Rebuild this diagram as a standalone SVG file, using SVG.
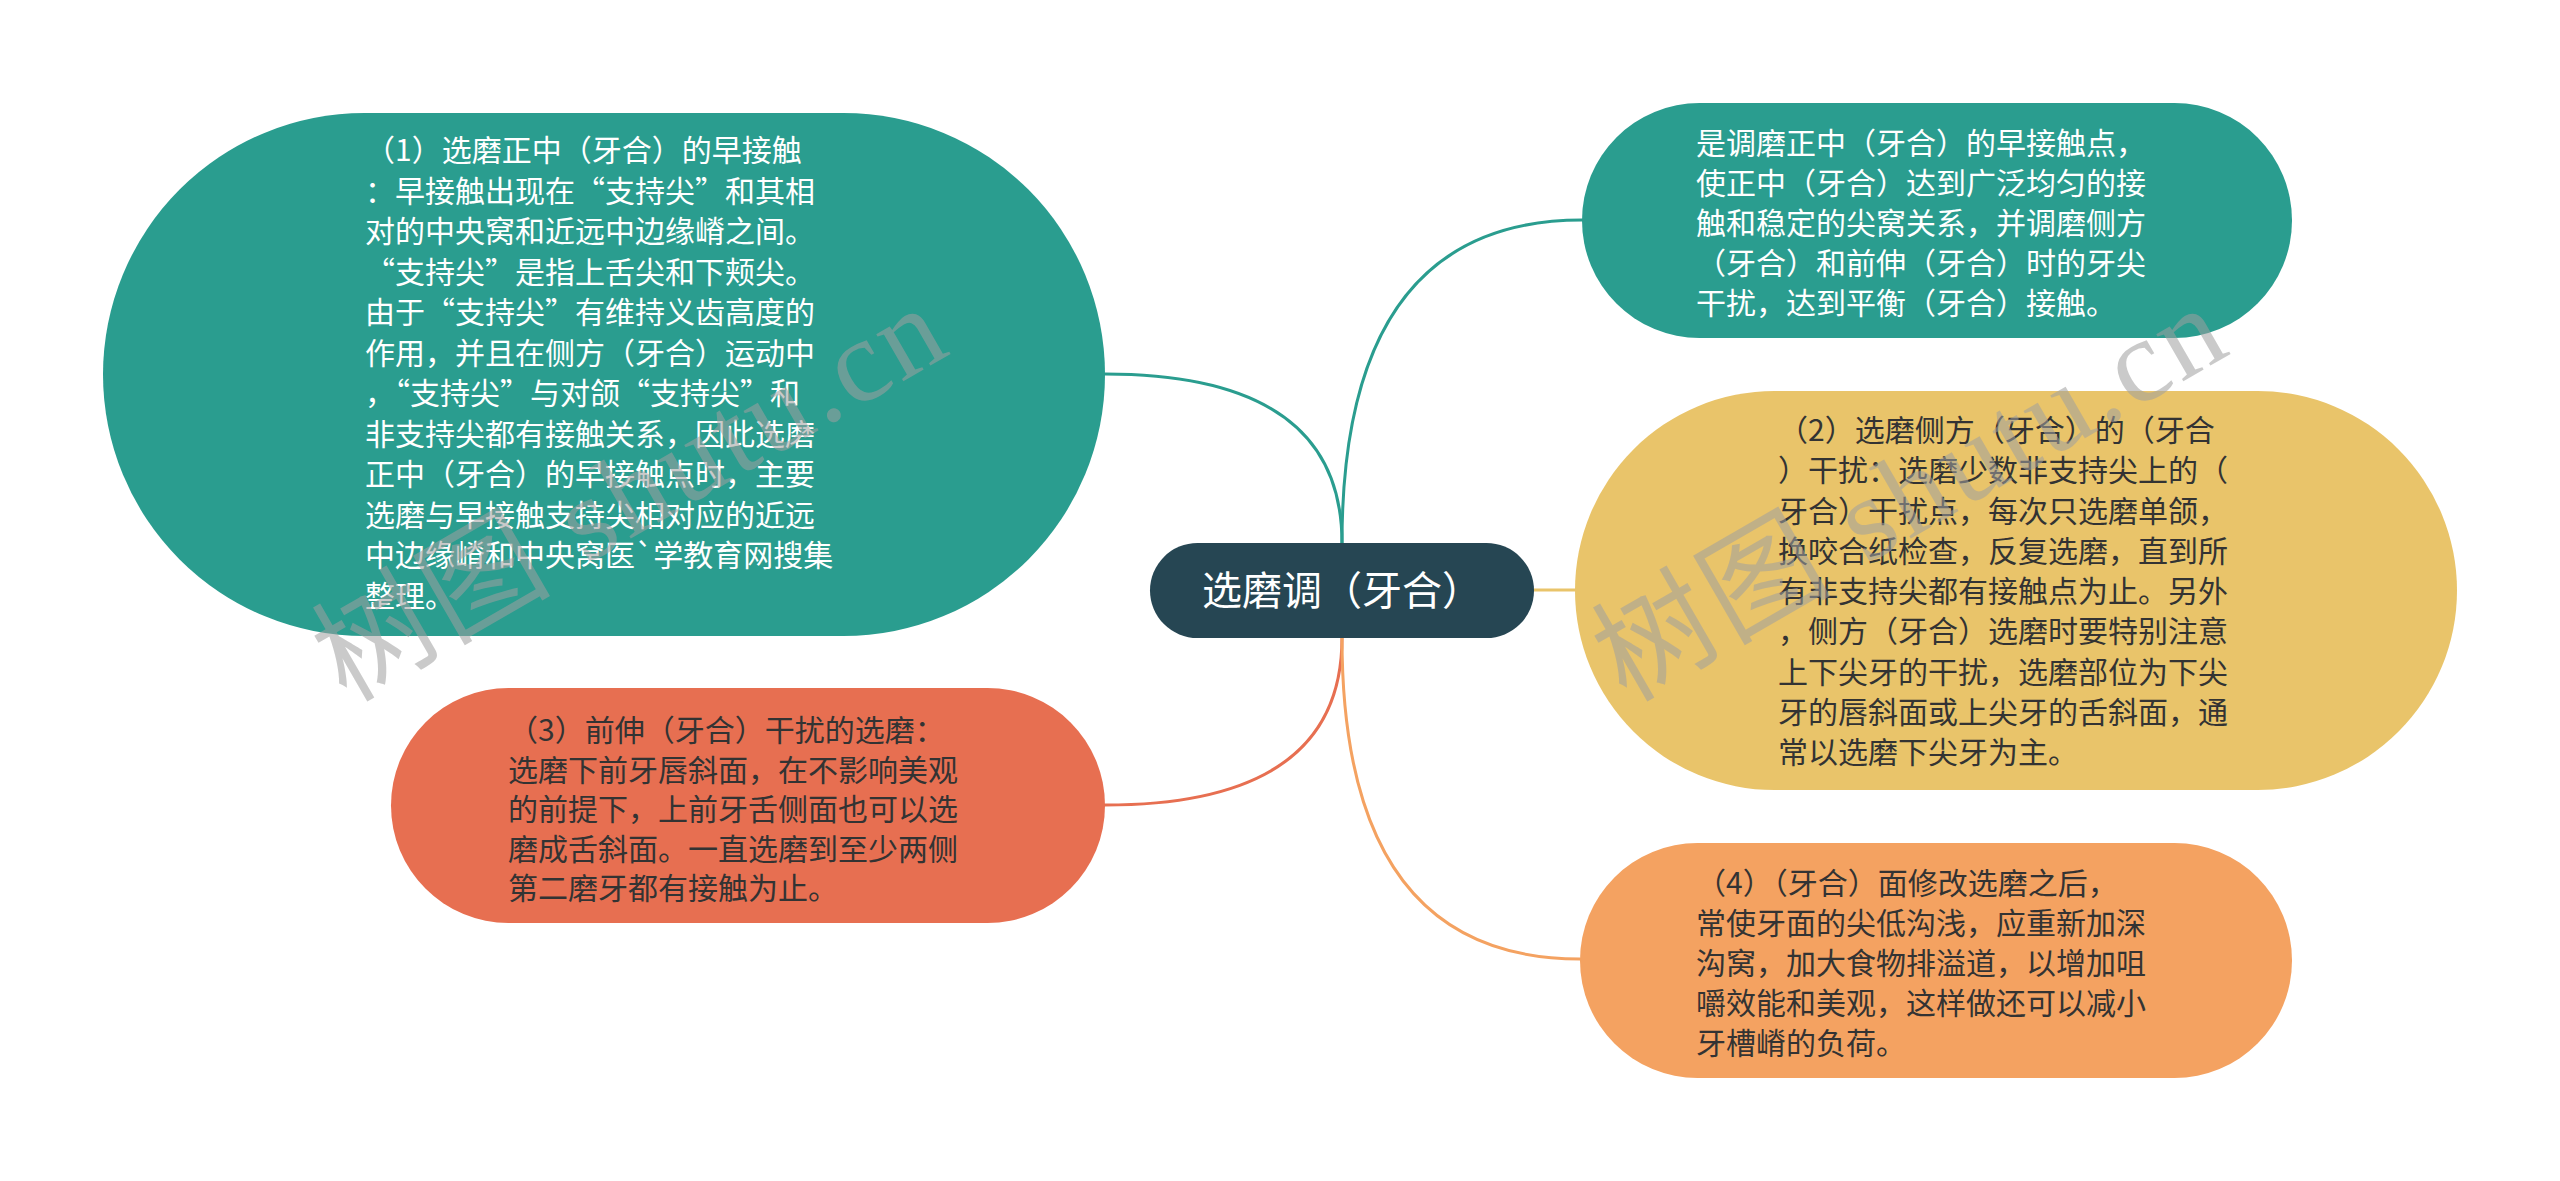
<svg xmlns="http://www.w3.org/2000/svg" width="2560" height="1181" viewBox="0 0 2560 1181">
<style>
.edge{fill:none;stroke-width:3;stroke-linecap:round}
.t{font-family:"Noto Sans CJK SC","Noto Sans",sans-serif;font-size:30px}
.w{fill:#ffffff}
.d{fill:#333333}
.wm{font-family:"Liberation Serif","Noto Sans CJK SC",serif;font-size:118px;fill:#a0a0a0;opacity:0.55}
</style>
<rect width="2560" height="1181" fill="#ffffff"/>
<g id="connectors">
<path class="edge" stroke="#2A9D8F" d="M1342,543 Q1342,374 1105,374"/>
<path class="edge" stroke="#2A9D8F" d="M1342,543 Q1342,220 1582,220"/>
<path class="edge" stroke="#E9C46A" d="M1534,590 L1575,590"/>
<path class="edge" stroke="#E76F51" d="M1342,638 Q1342,805 1105,805"/>
<path class="edge" stroke="#F4A261" d="M1342,638 Q1342,959 1580,959"/>
</g>
<g id="root">
<rect x="1150" y="543" width="384" height="95" rx="47.5" ry="47.5" fill="#264653"/>
<text x="1342" y="605" text-anchor="middle" font-family="Noto Sans CJK SC, sans-serif" font-size="40" fill="#ffffff">选磨调（牙合）</text>
</g>
<g id="node1">
<rect x="103" y="113" width="1002" height="523" rx="261.5" ry="261.5" fill="#2A9D8F"/>
<text class="t w">
<tspan x="365" y="161">（1）选磨正中（牙合）的早接触</tspan>
<tspan x="365" y="201.5">：早接触出现在“支持尖”和其相</tspan>
<tspan x="365" y="242">对的中央窝和近远中边缘嵴之间。</tspan>
<tspan x="365" y="282.5">“支持尖”是指上舌尖和下颊尖。</tspan>
<tspan x="365" y="323">由于“支持尖”有维持义齿高度的</tspan>
<tspan x="365" y="363.5">作用，并且在侧方（牙合）运动中</tspan>
<tspan x="365" y="404">，“支持尖”与对颌“支持尖”和</tspan>
<tspan x="365" y="444.5">非支持尖都有接触关系，因此选磨</tspan>
<tspan x="365" y="485">正中（牙合）的早接触点时，主要</tspan>
<tspan x="365" y="525.5">选磨与早接触支持尖相对应的近远</tspan>
<tspan x="365" y="566">中边缘嵴和中央窝医`学教育网搜集</tspan>
<tspan x="365" y="606.5">整理。</tspan>
</text>
</g>
<g id="node2">
<rect x="1582" y="103" width="710" height="235" rx="117.5" ry="117.5" fill="#2A9D8F"/>
<text class="t w">
<tspan x="1696" y="154">是调磨正中（牙合）的早接触点，</tspan>
<tspan x="1696" y="194">使正中（牙合）达到广泛均匀的接</tspan>
<tspan x="1696" y="234">触和稳定的尖窝关系，并调磨侧方</tspan>
<tspan x="1696" y="274">（牙合）和前伸（牙合）时的牙尖</tspan>
<tspan x="1696" y="314">干扰，达到平衡（牙合）接触。</tspan>
</text>
</g>
<g id="node3">
<rect x="1575" y="391" width="882" height="399" rx="199.5" ry="199.5" fill="#E9C46A"/>
<text class="t d">
<tspan x="1778" y="441">（2）选磨侧方（牙合）的（牙合</tspan>
<tspan x="1778" y="481">）干扰：选磨少数非支持尖上的（</tspan>
<tspan x="1778" y="521.5">牙合）干扰点，每次只选磨单颌，</tspan>
<tspan x="1778" y="562">换咬合纸检查，反复选磨，直到所</tspan>
<tspan x="1778" y="602">有非支持尖都有接触点为止。另外</tspan>
<tspan x="1778" y="642">，侧方（牙合）选磨时要特别注意</tspan>
<tspan x="1778" y="682.5">上下尖牙的干扰，选磨部位为下尖</tspan>
<tspan x="1778" y="723">牙的唇斜面或上尖牙的舌斜面，通</tspan>
<tspan x="1778" y="763">常以选磨下尖牙为主。</tspan>
</text>
</g>
<g id="node4">
<rect x="391" y="688" width="714" height="235" rx="117.5" ry="117.5" fill="#E76F51"/>
<text class="t d">
<tspan x="508" y="741">（3）前伸（牙合）干扰的选磨：</tspan>
<tspan x="508" y="780.5">选磨下前牙唇斜面，在不影响美观</tspan>
<tspan x="508" y="820">的前提下，上前牙舌侧面也可以选</tspan>
<tspan x="508" y="859.5">磨成舌斜面。一直选磨到至少两侧</tspan>
<tspan x="508" y="899">第二磨牙都有接触为止。</tspan>
</text>
</g>
<g id="node5">
<rect x="1580" y="843" width="712" height="235" rx="117.5" ry="117.5" fill="#F4A261"/>
<text class="t d">
<tspan x="1696" y="894">（4）（牙合）面修改选磨之后，</tspan>
<tspan x="1696" y="934">常使牙面的尖低沟浅，应重新加深</tspan>
<tspan x="1696" y="974">沟窝，加大食物排溢道，以增加咀</tspan>
<tspan x="1696" y="1014">嚼效能和美观，这样做还可以减小</tspan>
<tspan x="1696" y="1054">牙槽嵴的负荷。</tspan>
</text>
</g>
<g id="watermarks">
<text class="wm" transform="translate(346,703) rotate(-30)" textLength="700" lengthAdjust="spacing">树图 shutu.cn</text>
<text class="wm" transform="translate(1626,703) rotate(-30)" textLength="700" lengthAdjust="spacing">树图 shutu.cn</text>
</g>
</svg>
